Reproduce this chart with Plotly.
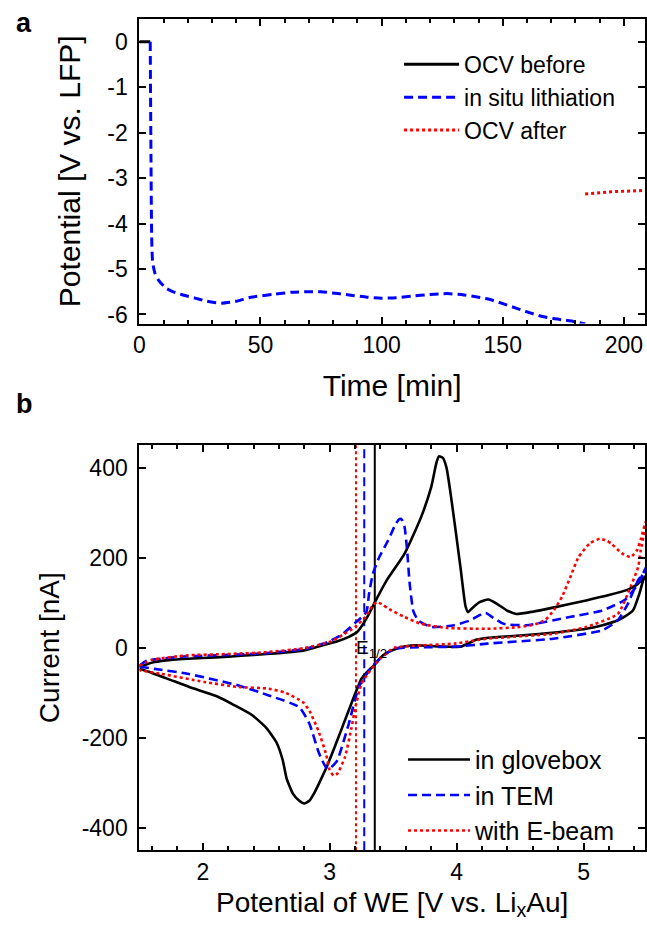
import plotly.graph_objects as go

# ---------------- panel a: potential vs time ----------------
ocv_before_t = [0.0, 1.5, 3.0, 4.5]
ocv_before_v = [0.0, 0.0, 0.0, 0.0]

lith_t = [4.5, 4.8, 5.1, 5.5, 6.5, 8.0, 11, 14, 18, 23, 28, 34, 40, 46, 55, 63, 70, 75,
          82, 88, 94, 100, 106, 112, 120, 127, 134, 140, 144, 150, 156, 161, 166, 171, 175, 180, 184]
lith_v = [0.0, -2.5, -4.3, -4.85, -5.1, -5.25, -5.42, -5.5, -5.57, -5.64, -5.71, -5.75, -5.71, -5.62, -5.56,
          -5.51, -5.5, -5.5, -5.54, -5.58, -5.62, -5.64, -5.63, -5.6, -5.56, -5.54, -5.57, -5.62, -5.66, -5.76,
          -5.87, -5.96, -6.04, -6.09, -6.12, -6.16, -6.21]

ocv_after_t = [184, 190, 195, 200, 205, 209]
ocv_after_v = [-3.35, -3.32, -3.30, -3.29, -3.28, -3.27]

# ---------------- panel b: cyclic voltammograms ----------------
glove_v = [1.50, 1.56, 1.62, 1.75, 2.00, 2.20, 2.40, 2.60, 2.80, 2.94, 3.05, 3.15, 3.22, 3.30, 3.35, 3.45,
           3.59, 3.72, 3.80, 3.84, 3.86, 3.89, 3.92, 3.96, 4.03, 4.07, 4.09, 4.12, 4.18, 4.25, 4.32, 4.40,
           4.47, 4.60, 4.76, 5.02, 5.20, 5.35, 5.42, 5.49,
           5.47, 5.44, 5.39, 5.33, 5.27, 5.15, 5.02, 4.75, 4.50, 4.25, 4.16, 4.08, 4.03, 3.95, 3.85, 3.72,
           3.64, 3.55, 3.46, 3.40, 3.35, 3.30, 3.25, 3.15, 3.04, 2.98, 2.94, 2.88, 2.84, 2.80, 2.76, 2.71,
           2.66, 2.63, 2.58, 2.50, 2.39, 2.25, 2.11, 1.90, 1.75, 1.60, 1.50]
glove_i = [-44, -37, -32, -27, -23, -20, -16, -12, -6, 5, 13, 24, 36, 70, 98, 150,
           209, 290, 357, 410, 425, 422, 400, 327, 179, 92, 79, 87, 101, 107, 97, 82,
           75, 80, 89, 105, 117, 129, 140, 160,
           150, 120, 83, 70, 61, 50, 42, 33, 27, 22, 18, 8, 2, 2, 3, 5,
           5, 0, -10, -22, -39, -52, -69, -139, -220, -262, -287, -322, -340, -346, -340, -324,
           -290, -250, -210, -178, -150, -128, -108, -88, -72, -56, -47]

tem_v = [1.50, 1.55, 1.62, 1.88, 2.20, 2.50, 2.80, 2.94, 3.01, 3.10, 3.20, 3.26, 3.29, 3.31, 3.34, 3.39,
         3.46, 3.52, 3.55, 3.57, 3.59, 3.61, 3.63, 3.66, 3.70, 3.80, 3.98, 4.11, 4.20, 4.23, 4.29, 4.37,
         4.55, 4.89, 5.15, 5.33, 5.43, 5.49,
         5.47, 5.43, 5.35, 5.27, 5.15, 4.76, 4.24, 3.98, 3.72, 3.51, 3.41, 3.33, 3.23, 3.15, 3.06, 3.01,
         2.98, 2.94, 2.91, 2.84, 2.76, 2.52, 2.27, 1.88, 1.62, 1.50]
tem_i = [-40, -30, -26, -19, -16, -12, -3, 8, 16, 30, 55, 70, 80, 120, 164, 201,
         238, 275, 286, 284, 268, 216, 142, 80, 60, 46, 50, 61, 75, 77, 66, 53,
         50, 68, 83, 107, 142, 178,
         165, 150, 98, 61, 39, 20, 9, 2, 1, -2, -21, -43, -87, -169, -250, -266,
         -269, -250, -230, -169, -132, -106, -83, -58, -47, -42]

ebeam_v = [1.50, 1.60, 1.88, 2.20, 2.50, 2.80, 2.94, 3.01, 3.10, 3.20, 3.28, 3.33, 3.37, 3.42, 3.46, 3.59,
           3.72, 3.92, 4.24, 4.50, 4.62, 4.70, 4.77, 4.83, 4.90, 4.96, 5.05, 5.13, 5.18, 5.22, 5.30, 5.37,
           5.42, 5.45, 5.49,
           5.48, 5.45, 5.43, 5.37, 5.27, 5.02, 4.76, 4.24, 3.98, 3.72, 3.51, 3.42, 3.35, 3.30, 3.25, 3.20,
           3.17, 3.12, 3.06, 3.03, 3.00, 2.97, 2.91, 2.84, 2.79, 2.65, 2.52, 2.27, 2.01, 1.67, 1.50]
ebeam_i = [-40, -27, -17, -14, -10, -1, 8, 14, 28, 46, 68, 90, 101, 95, 87, 68,
           53, 44, 42, 46, 52, 62, 85, 113, 160, 201, 232, 242, 238, 231, 210, 201,
           216, 240, 280,
           260, 215, 179, 135, 75, 46, 31, 20, 9, 5, 0, -18, -40, -58, -80, -135,
           -180, -243, -280, -284, -272, -235, -184, -140, -121, -100, -91, -87, -76, -58, -50]

# half-wave potentials of the three cells
e_half = {"glovebox": 3.355, "tem": 3.272, "ebeam": 3.207}
current_span = [-450, 450]

time_ticks = [0, 50, 100, 150, 200]
pot_ticks = [0, -1, -2, -3, -4, -5, -6]
we_ticks = [2, 3, 4, 5]
cur_ticks = [-400, -200, 0, 200, 400]

FONT = "Liberation Sans, Arial, sans-serif"
BLUE = "#0000ff"
RED = "#ff0000"

fig = go.Figure()

# panel a traces
fig.add_trace(go.Scatter(x=ocv_before_t, y=ocv_before_v, mode="lines", name="OCV before",
                         line=dict(color="black", width=3), legend="legend", xaxis="x", yaxis="y"))
fig.add_trace(go.Scatter(x=lith_t, y=lith_v, mode="lines", name="in situ lithiation",
                         line=dict(color=BLUE, width=3, dash="9px,5px", shape="spline", smoothing=0.6),
                         legend="legend", xaxis="x", yaxis="y"))
fig.add_trace(go.Scatter(x=ocv_after_t, y=ocv_after_v, mode="lines", name="OCV after",
                         line=dict(color=RED, width=3, dash="3px,3px"), legend="legend",
                         xaxis="x", yaxis="y"))

# panel b: vertical half-wave potential markers
for key, col, dash in [("ebeam", RED, "3px,3px"), ("tem", BLUE, "9px,5px"), ("glovebox", "black", "solid")]:
    fig.add_trace(go.Scatter(x=[e_half[key], e_half[key]], y=current_span, mode="lines",
                             line=dict(color=col, width=2, dash=dash), showlegend=False,
                             hoverinfo="skip", xaxis="x2", yaxis="y2"))

# panel b CV loops
fig.add_trace(go.Scatter(x=glove_v, y=glove_i, mode="lines", name="in glovebox",
                         line=dict(color="black", width=2.6, shape="spline", smoothing=0.5),
                         legend="legend2", xaxis="x2", yaxis="y2"))
fig.add_trace(go.Scatter(x=tem_v, y=tem_i, mode="lines", name="in TEM",
                         line=dict(color=BLUE, width=2.6, dash="9px,5px", shape="spline", smoothing=0.5),
                         legend="legend2", xaxis="x2", yaxis="y2"))
fig.add_trace(go.Scatter(x=ebeam_v, y=ebeam_i, mode="lines", name="with E-beam",
                         line=dict(color=RED, width=2.6, dash="3px,3px", shape="spline", smoothing=0.5),
                         legend="legend2", xaxis="x2", yaxis="y2"))

W, H = 647, 926
x_dom = [135 / W, 1.0]

axis_common = dict(showline=True, linecolor="black", linewidth=2, mirror="ticks",
                   ticks="inside", ticklen=7, tickwidth=1.5, tickcolor="black",
                   showgrid=False, zeroline=False,
                   tickfont=dict(family=FONT, size=23, color="black"))

fig.update_layout(
    width=W, height=H,
    margin=dict(l=0, r=0, t=0, b=0),
    paper_bgcolor="white", plot_bgcolor="white",
    font=dict(family=FONT, color="black"),
    xaxis=dict(axis_common, domain=x_dom, range=[0, 208.7], tickvals=time_ticks,
               minor=dict(dtick=10, ticks="inside", ticklen=4, tickwidth=1.5, tickcolor="black"),
               title=dict(text="Time [min]", font=dict(size=30), standoff=18), anchor="y"),
    yaxis=dict(axis_common, domain=[1 - 325 / H, 1 - 19 / H], range=[-6.2, 0.5],
               tickvals=pot_ticks, ticktext=[str(v) for v in pot_ticks], ticklabelstandoff=5,
               title=dict(text="Potential [V vs. LFP]", font=dict(size=30), standoff=18), anchor="x"),
    xaxis2=dict(axis_common, domain=x_dom, range=[1.5, 5.484], tickvals=we_ticks,
                minor=dict(dtick=0.2, ticks="inside", ticklen=4, tickwidth=1.5, tickcolor="black"),
                title=dict(text="Potential of WE [V vs. Li<sub>x</sub>Au]", font=dict(size=28), standoff=8),
                anchor="y2"),
    yaxis2=dict(axis_common, domain=[1 - 854 / H, 1 - 447 / H], range=current_span,
                tickvals=cur_ticks, ticktext=[str(v) for v in cur_ticks], ticklabelstandoff=5,
                title=dict(text="Current [nA]", font=dict(size=28), standoff=14), anchor="x2"),
    legend=dict(x=398 / W, y=1 - 43 / H, xanchor="left", yanchor="top",
                bgcolor="rgba(0,0,0,0)", font=dict(family=FONT, size=23, color="black"),
                tracegroupgap=0, itemwidth=55),
    legend2=dict(x=402 / W, y=1 - 740 / H, xanchor="left", yanchor="top",
                 bgcolor="rgba(0,0,0,0)", font=dict(family=FONT, size=25, color="black"),
                 tracegroupgap=0, itemwidth=62),
    annotations=[
        dict(text="<b>a</b>", x=8 / W, y=1 - 6 / H, xref="paper", yref="paper",
             xanchor="left", yanchor="top", showarrow=False, font=dict(size=27)),
        dict(text="<b>b</b>", x=8 / W, y=1 - 389 / H, xref="paper", yref="paper",
             xanchor="left", yanchor="top", showarrow=False, font=dict(size=27)),
        dict(text="E<sub>1/2</sub>", x=3.19, y=-4, xref="x2", yref="y2",
             xanchor="left", yanchor="middle", showarrow=False, font=dict(size=19)),
    ],
)

fig.write_html("out.html")
